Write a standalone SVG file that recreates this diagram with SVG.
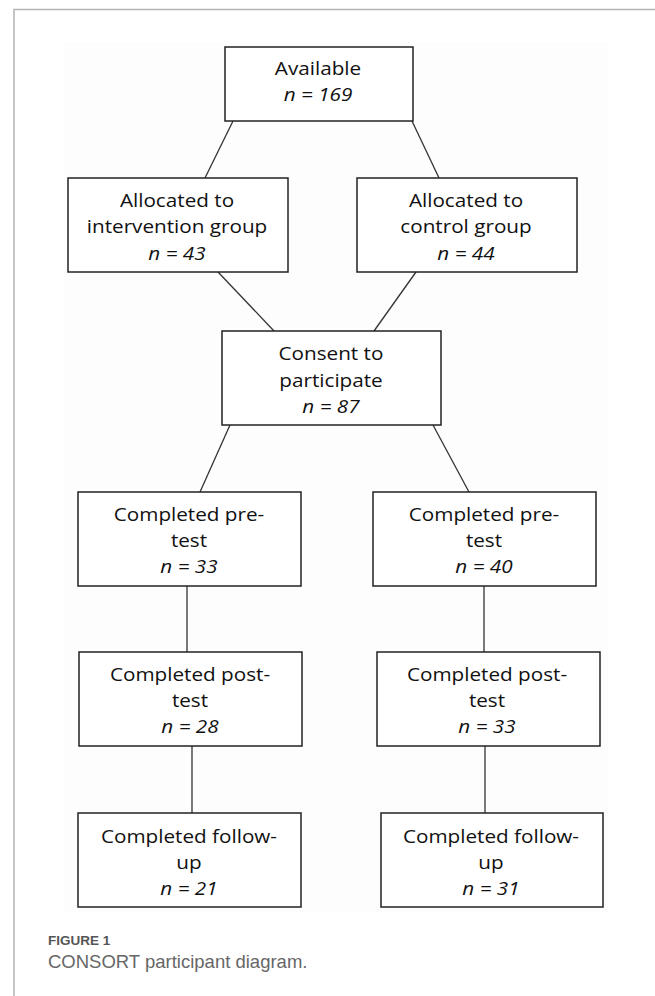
<svg xmlns="http://www.w3.org/2000/svg" width="655" height="996" viewBox="0 0 655 996">
  <style>
    .box { fill: #ffffff; stroke: #222222; stroke-width: 1.5; }
    .lbl { font-family: "Open Sans", "Noto Sans", "Liberation Sans", sans-serif; font-size: 18px; fill: #111111; text-anchor: middle; }
    .n { font-style: italic; }
    .conn line { stroke: #333333; stroke-width: 1.3; }
    .frame { stroke: #b4b4b4; stroke-width: 1.5; fill: none; }
  </style>
  <rect x="0" y="0" width="655" height="996" fill="#ffffff"/>
  <path class="frame" d="M655 9.5 H14 V996"/>
  <rect x="64" y="42" width="544" height="870" fill="#fdfdfd"/>

  <g id="connectors" class="conn">
    <line x1="233" y1="121" x2="205" y2="178"/>
    <line x1="412" y1="121" x2="439" y2="178"/>
    <line x1="218" y1="272" x2="274" y2="331"/>
    <line x1="416" y1="272" x2="374" y2="331"/>
    <line x1="230" y1="425" x2="200" y2="492"/>
    <line x1="433" y1="425" x2="469" y2="492"/>
    <line x1="187" y1="586" x2="187" y2="652"/>
    <line x1="484" y1="586" x2="484" y2="652"/>
    <line x1="192" y1="746" x2="192" y2="813"/>
    <line x1="485" y1="746" x2="485" y2="813"/>
  </g>

  <g id="available">
    <rect class="box" x="225" y="47" width="188" height="74"/>
    <g class="lbl" transform="translate(318 0) scale(1.15 1)">
      <text x="0" y="75">Available</text>
      <text class="n" x="0" y="101.5">n = 169</text>
    </g>
  </g>

  <g id="intervention">
    <rect class="box" x="68" y="178" width="220" height="94"/>
    <g class="lbl" transform="translate(177 0) scale(1.15 1)">
      <text x="0" y="207">Allocated to</text>
      <text x="0" y="233.5">intervention group</text>
      <text class="n" x="0" y="260">n = 43</text>
    </g>
  </g>

  <g id="control">
    <rect class="box" x="357" y="178" width="220" height="94"/>
    <g class="lbl" transform="translate(466 0) scale(1.15 1)">
      <text x="0" y="207">Allocated to</text>
      <text x="0" y="233.5">control group</text>
      <text class="n" x="0" y="260">n = 44</text>
    </g>
  </g>

  <g id="consent">
    <rect class="box" x="222" y="331" width="219" height="94"/>
    <g class="lbl" transform="translate(331 0) scale(1.15 1)">
      <text x="0" y="360.5">Consent to</text>
      <text x="0" y="387">participate</text>
      <text class="n" x="0" y="413.5">n = 87</text>
    </g>
  </g>

  <g id="pretest-left">
    <rect class="box" x="78" y="492" width="223" height="94"/>
    <g class="lbl" transform="translate(189 0) scale(1.15 1)">
      <text x="0" y="521.5">Completed pre-</text>
      <text x="0" y="547">test</text>
      <text class="n" x="0" y="573.5">n = 33</text>
    </g>
  </g>

  <g id="pretest-right">
    <rect class="box" x="373" y="492" width="223" height="94"/>
    <g class="lbl" transform="translate(484 0) scale(1.15 1)">
      <text x="0" y="521.5">Completed pre-</text>
      <text x="0" y="547">test</text>
      <text class="n" x="0" y="573.5">n = 40</text>
    </g>
  </g>

  <g id="posttest-left">
    <rect class="box" x="79" y="652" width="223" height="94"/>
    <g class="lbl" transform="translate(190 0) scale(1.15 1)">
      <text x="0" y="681.5">Completed post-</text>
      <text x="0" y="707">test</text>
      <text class="n" x="0" y="733.5">n = 28</text>
    </g>
  </g>

  <g id="posttest-right">
    <rect class="box" x="377" y="652" width="223" height="94"/>
    <g class="lbl" transform="translate(487 0) scale(1.15 1)">
      <text x="0" y="681.5">Completed post-</text>
      <text x="0" y="707">test</text>
      <text class="n" x="0" y="733.5">n = 33</text>
    </g>
  </g>

  <g id="followup-left">
    <rect class="box" x="78" y="813" width="223" height="94"/>
    <g class="lbl" transform="translate(189 0) scale(1.15 1)">
      <text x="0" y="843">Completed follow-</text>
      <text x="0" y="869">up</text>
      <text class="n" x="0" y="895">n = 21</text>
    </g>
  </g>

  <g id="followup-right">
    <rect class="box" x="381" y="813" width="222" height="94"/>
    <g class="lbl" transform="translate(491 0) scale(1.15 1)">
      <text x="0" y="843">Completed follow-</text>
      <text x="0" y="869">up</text>
      <text class="n" x="0" y="895">n = 31</text>
    </g>
  </g>

  <g id="caption">
    <text x="48" y="945" font-family="Liberation Sans, Arial, sans-serif" font-size="13.5" font-weight="bold" fill="#555555">FIGURE 1</text>
    <text x="48" y="968" font-family="Liberation Sans, Arial, sans-serif" font-size="18.5" fill="#666666">CONSORT participant diagram.</text>
  </g>
</svg>
